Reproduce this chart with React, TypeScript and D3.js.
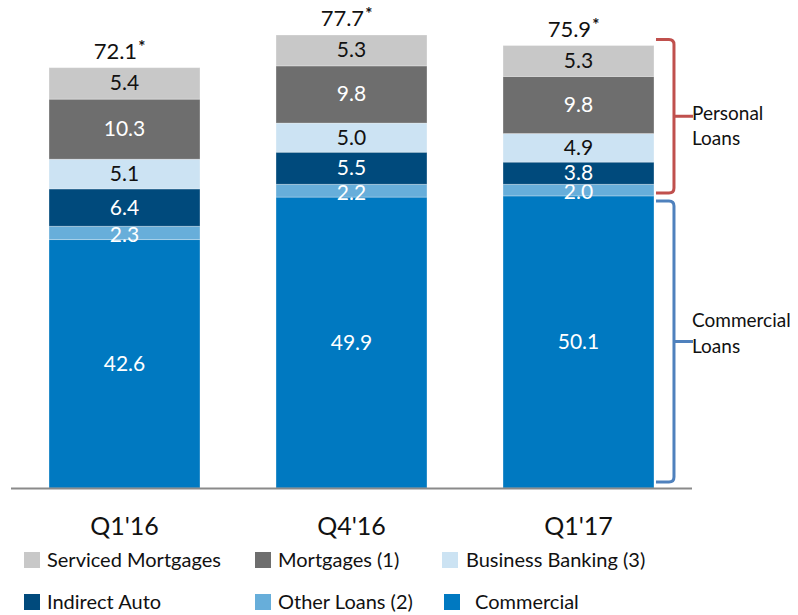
import React from 'react';
import * as d3 from 'd3';

const categories = ["Q1'16", "Q4'16", "Q1'17"];
const totals = [72.1, 77.7, 75.9];

// bottom to top
const seriesNames = ['Commercial', 'Other Loans (2)', 'Indirect Auto', 'Business Banking (3)', 'Mortgages (1)', 'Serviced Mortgages'];
const commercial = [42.6, 49.9, 50.1];
const otherLoans = [2.3, 2.2, 2.0];
const indirectAuto = [6.4, 5.5, 3.8];
const businessBanking = [5.1, 5.0, 4.9];
const mortgages = [10.3, 9.8, 9.8];
const servicedMortgages = [5.4, 5.3, 5.3];

const colors = ['#0079c1', '#67aeda', '#004a7c', '#cce3f3', '#6e6e6e', '#c8c8c8'];
const textColors = ['#fff', '#fff', '#fff', '#111', '#fff', '#111'];

const legendOrder = [5, 4, 3, 2, 1, 0];

const FONT = 'Lato, "Open Sans", sans-serif';

const App = () => {
  const width = 798;
  const height = 615;
  const baseY = 488;

  const x = d3.scaleBand<string>()
    .domain(categories)
    .range([11, 692])
    .paddingInner(0.335)
    .paddingOuter(0.1675);

  const y = d3.scaleLinear().domain([0, 80]).range([baseY, baseY - 80 * 5.83]);

  const table = categories.map((c, i) => ({
    cat: c,
    s0: commercial[i],
    s1: otherLoans[i],
    s2: indirectAuto[i],
    s3: businessBanking[i],
    s4: mortgages[i],
    s5: servicedMortgages[i],
  }));
  const keys = ['s0', 's1', 's2', 's3', 's4', 's5'];
  const stacked = d3.stack<any>().keys(keys)(table);

  // brace geometry attached to Q1'17 bar
  const last = categories.length - 1;
  const bx0 = (x(categories[last]) as number) + x.bandwidth() + 2;
  const bxv = bx0 + 18;
  const bxm = bxv + 19;
  const personalTop = y(totals[last]) - 6;
  const personalBot = y(commercial[last]) - 3;
  const commTop = y(commercial[last]) + 5;
  const commBot = y(0) - 6;

  const brace = (t: number, b: number) => {
    const m = (t + b) / 2;
    const r = 5;
    return `M${bx0},${t} L${bxv - r},${t} Q${bxv},${t} ${bxv},${t + r} L${bxv},${b - r} Q${bxv},${b} ${bxv - r},${b} L${bx0},${b} M${bxv},${m} L${bxm},${m}`;
  };

  const legendItems = legendOrder.map((si, k) => {
    const col = k % 3;
    const row = Math.floor(k / 3);
    const sqX = [24, 255, 442][col] + (row === 1 && col === 2 ? 2 : 0);
    const txX = [47, 278, 466][col] + (row === 1 && col === 2 ? 9 : 0);
    const cy = row === 0 ? 560 : 602;
    return { si, sqX, txX, cy };
  });

  return (
    <svg width={width} height={height} style={{ display: 'block', position: 'absolute', left: 0, top: 0 }} fontFamily={FONT}>
      <rect width={width} height={height} fill="#fff" />
      {stacked.map((layer, li) => (
        <g key={li}>
          {layer.map((d, i) => {
            const x0 = x(categories[i]) as number;
            const top = y(d[1]);
            const bot = y(d[0]);
            const v = d[1] - d[0];
            let ty = (top + bot) / 2 + 7;
            if (li === 1) ty = (top + bot) / 2 + 9;
            return (
              <g key={i}>
                <rect x={x0} y={top} width={x.bandwidth()} height={bot - top} fill={colors[li]} stroke="#fff" strokeOpacity={0.35} strokeWidth={0.8} />
                <text x={x0 + x.bandwidth() / 2} y={ty} textAnchor="middle" fontSize={21} fill={textColors[li]}>
                  {v.toFixed(1)}
                </text>
              </g>
            );
          })}
        </g>
      ))}
      {totals.map((t, i) => {
        const cx = (x(categories[i]) as number) + x.bandwidth() / 2;
        return (
          <text key={i} x={cx - 5} y={y(t) - 9} textAnchor="middle" fontSize={22} fill="#111">
            {t.toFixed(1)}
            <tspan dx={1} dy={-6} fontSize={17} fontWeight="bold">*</tspan>
          </text>
        );
      })}
      <line x1={11} x2={692} y1={baseY + 0.5} y2={baseY + 0.5} stroke="#8a8a8a" strokeWidth={2} />
      {categories.map((c) => (
        <text key={c} x={(x(c) as number) + x.bandwidth() / 2} y={535} textAnchor="middle" fontSize={25} fill="#111">
          {c}
        </text>
      ))}
      <path d={brace(personalTop, personalBot)} fill="none" stroke="#c0504d" strokeWidth={3} strokeLinejoin="round" />
      <path d={brace(commTop, commBot)} fill="none" stroke="#4f81bd" strokeWidth={3} strokeLinejoin="round" />
      <text x={692} fontSize={19} fill="#111">
        <tspan x={692} y={120}>Personal</tspan>
        <tspan x={692} y={145}>Loans</tspan>
      </text>
      <text x={692} fontSize={19} fill="#111">
        <tspan x={692} y={327}>Commercial</tspan>
        <tspan x={692} y={353}>Loans</tspan>
      </text>
      {legendItems.map((it) => (
        <g key={it.si}>
          <rect x={it.sqX} y={it.cy - 8} width={16} height={16} fill={colors[it.si]} />
          <text x={it.txX} y={it.cy + 7} fontSize={20} fill="#111">{seriesNames[it.si]}</text>
        </g>
      ))}
    </svg>
  );
};

export default App;
